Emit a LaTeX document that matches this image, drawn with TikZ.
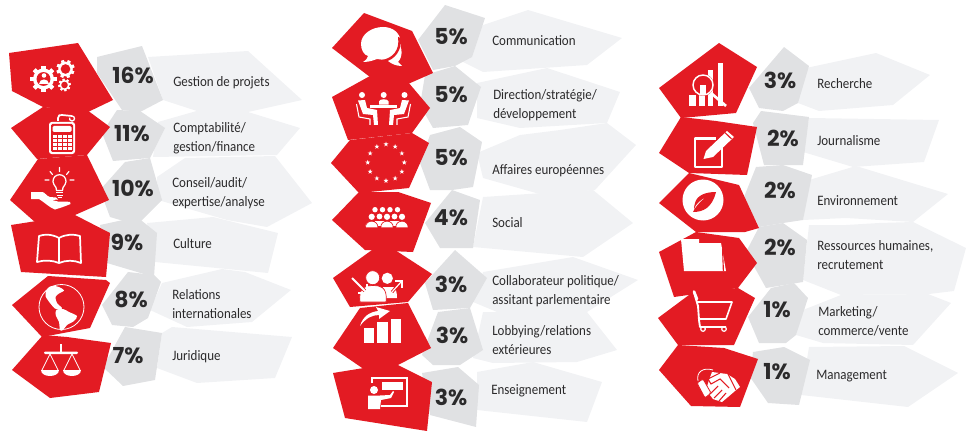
\documentclass[tikz,border=0pt]{standalone}
\usepackage{fontspec}
\usetikzlibrary{arrows.meta}
\setmainfont{Carlito}[FakeStretch=0.9]
\newfontfamily\pctfont{Poppins}[Scale=1]
\definecolor{cred}{HTML}{E31B23}
\definecolor{cgrey}{HTML}{E0E1E3}
\definecolor{clight}{HTML}{F1F2F4}
\definecolor{ctext}{HTML}{2B2A2B}
\tikzset{
  redp/.style={fill=cred},
  greyp/.style={fill=cgrey},
  lightp/.style={fill=clight},
  pct/.style={font=\pctfont\bfseries\fontsize{16.5}{18}\selectfont,text=ctext,inner sep=0pt,anchor=center},
  lab/.style={font=\fontsize{10.8}{14.2}\selectfont,text=ctext,inner sep=0pt,anchor=west,align=left,yshift=-1.1pt},
  ico/.style={fill=white,draw=none},
  icl/.style={draw=white,line width=1.3pt,fill=none},
  icr/.style={fill=cred,draw=none},
}
\newcommand{\gearicon}[4]{% cx cy r teeth
  \fill[ico] (#1,#2) circle ({#3});
  \foreach \a in {0,45,...,315}
    \fill[ico,rotate around={\a+#4:(#1,#2)}] ({#1-#3*0.2},{#2-#3*1.24}) rectangle ({#1+#3*0.2},{#2+#3*1.24});
  \fill[icr] (#1,#2) circle ({#3*0.66});
}
\newcommand{\eustar}[2]{%
  \begin{scope}[shift={(#1,#2)}]
  \fill[white] (-90:2.6) \foreach \i in {1,...,9} { -- ({-90+36*\i}:{mod(\i,2)==0 ? 2.6 : 1.05}) } -- cycle;
  \end{scope}
}
\begin{document}
\begin{tikzpicture}[x=0.75pt,y=-0.75pt]
\useasboundingbox (0,0) rectangle (966,431);
%% ---------- light
\fill[lightp] (148,57)--(248,51)--(302,100)--(248,112)--(200,112)--(163,100)--cycle;
\fill[lightp] (158,122)--(200,110)--(248,112)--(300,128)--(277,155)--(153,157)--cycle;
\fill[lightp] (157,177)--(185,158)--(275,156)--(312,203)--(267,227)--(227,220)--(158,200)--cycle;
\fill[lightp] (147,223)--(213,217)--(278,233)--(268,273)--(155,262)--cycle;
\fill[lightp] (162,283)--(222,269)--(245,272)--(291,290)--(252,322)--(187,327)--(150,310)--cycle;
\fill[lightp] (172,327)--(292,337)--(275,378)--(197,383)--(157,368)--(162,333)--cycle;
%
\fill[lightp] (483,25)--(528,10)--(622,38)--(587,65)--(483,72)--(463,62)--cycle;
\fill[lightp] (477,83)--(547,68)--(620,92)--(607,123)--(520,128)--(477,118)--cycle;
\fill[lightp] (477,153)--(520,135)--(560,130)--(607,123)--(636,145)--(595,190)--(543,195)--(483,178)--cycle;
\fill[lightp] (483,197)--(543,193)--(593,190)--(633,223)--(583,257)--(473,247)--cycle;
\fill[lightp] (483,272)--(573,257)--(638,280)--(587,312)--(497,312)--(473,302)--cycle;
\fill[lightp] (483,312)--(587,312)--(617,350)--(577,362)--(493,363)--(473,358)--cycle;
\fill[lightp] (477,372)--(533,362)--(602,382)--(587,422)--(477,410)--cycle;
%
\fill[lightp] (806,68)--(876,53)--(930,75)--(893,105)--(819,111)--(798,103)--cycle;
\fill[lightp] (809,118)--(939,120)--(924,162)--(853,167)--(803,152)--cycle;
\fill[lightp] (809,180)--(856,166)--(948,194)--(913,222)--(846,218)--(803,220)--cycle;
\fill[lightp] (809,225)--(846,225)--(879,223)--(913,222)--(966,248)--(954,291)--(929,294)--(841,295)--(803,280)--cycle;
\fill[lightp] (803,310)--(841,295)--(928,294)--(951,303)--(913,345)--(823,343)--(796,335)--cycle;
\fill[lightp] (809,347)--(904,346)--(958,373)--(908,407)--(801,395)--cycle;
%% ---------- grey
\fill[greyp] (97,57)--(142,46)--(163,100)--(140,112)--(122,110)--(97,73)--cycle;
\fill[greyp] (117,110)--(140,111)--(165,128)--(150,158)--(113,161)--(102,133)--cycle;
\fill[greyp] (125,162)--(150,158)--(162,200)--(137,225)--(110,217)--(100,190)--cycle;
\fill[greyp] (100,225)--(137,217)--(157,233)--(154,277)--(107,263)--cycle;
\fill[greyp] (128,272)--(154,275)--(161,282)--(148,318)--(133,327)--(112,325)--(102,305)--cycle;
\fill[greyp] (125,327)--(162,333)--(155,380)--(123,386)--(103,367)--cycle;
%
\fill[greyp] (445,5)--(485,18)--(472,57)--(455,66)--(433,70)--(418,40)--cycle;
\fill[greyp] (455,66)--(481,87)--(468,125)--(433,128)--(420,105)--(425,75)--cycle;
\fill[greyp] (460,127)--(482,142)--(473,187)--(452,190)--(430,190)--(420,163)--(430,135)--cycle;
\fill[greyp] (452,190)--(480,200)--(473,248)--(440,248)--(425,223)--cycle;
\fill[greyp] (455,250)--(487,278)--(470,308)--(433,310)--(425,283)--cycle;
\fill[greyp] (438,312)--(470,308)--(483,350)--(460,365)--(433,365)--(422,355)--cycle;
\fill[greyp] (422,373)--(458,367)--(479,385)--(476,427)--(430,415)--cycle;
%
\fill[greyp] (749,88)--(784,47)--(809,66)--(798,103)--(783,111)--(759,108)--cycle;
\fill[greyp] (753,123)--(761,111)--(809,117)--(803,165)--(764,165)--cycle;
\fill[greyp] (744,197)--(756,167)--(783,165)--(812,175)--(803,220)--(783,223)--(759,227)--cycle;
\fill[greyp] (746,252)--(759,227)--(783,223)--(807,240)--(803,282)--(766,288)--cycle;
\fill[greyp] (748,317)--(771,288)--(794,283)--(808,298)--(796,335)--(786,343)--(759,343)--cycle;
\fill[greyp] (750,377)--(753,352)--(784,347)--(810,360)--(799,405)--(768,403)--cycle;
%% ---------- red
\fill[redp] (9,53)--(78,43)--(113,100)--(88,112)--(43,107)--(12,91)--cycle;
\fill[redp] (43,107)--(11,128)--(37,159)--(87,155)--(110,127)--(87,110)--cycle;
\fill[redp] (38,159)--(10,200)--(44,230)--(75,215)--(109,200)--(87,155)--cycle;
\fill[redp] (11,225)--(75,215)--(110,233)--(106,277)--(21,272)--cycle;
\fill[redp] (48,276)--(12,305)--(42,337)--(90,328)--(110,283)--(106,280)--cycle;
\fill[redp] (43,335)--(12,370)--(50,398)--(99,392)--(111,343)--(67,337)--cycle;
%
\fill[redp] (364,13)--(412,31)--(433,73)--(408,84)--(370,77)--(332,48)--cycle;
\fill[redp] (370,76)--(332,97)--(348,140)--(412,133)--(430,108)--(408,82)--cycle;
\fill[redp] (350,140)--(331,163)--(359,193)--(409,188)--(429,143)--(412,133)--cycle;
\fill[redp] (359,192)--(332,220)--(365,250)--(413,252)--(431,203)--(398,192)--cycle;
\fill[redp] (372,250)--(333,278)--(350,307)--(408,302)--(432,274)--(395,250)--cycle;
\fill[redp] (360,308)--(333,348)--(368,372)--(398,365)--(431,348)--(408,303)--cycle;
\fill[redp] (370,367)--(333,373)--(345,418)--(427,431)--(432,382)--(398,365)--cycle;
%
\fill[redp] (719,43)--(757,67)--(736,113)--(681,118)--(659,88)--cycle;
\fill[redp] (681,117)--(659,153)--(689,173)--(747,175)--(757,127)--(716,121)--cycle;
\fill[redp] (689,173)--(659,203)--(696,232)--(745,232)--(759,228)--(739,185)--cycle;
\fill[redp] (696,232)--(659,252)--(674,297)--(738,288)--(757,263)--(739,238)--cycle;
\fill[redp] (693,292)--(658,318)--(678,345)--(734,345)--(755,298)--(738,288)--cycle;
\fill[redp] (678,345)--(659,370)--(691,406)--(740,407)--(758,359)--(724,348)--cycle;
%% ---------- percentages
\node[pct] (p1) at (133,75) {16\%};
\node[pct] (p2) at (132,134) {11\%};
\node[pct] (p3) at (133,188) {10\%};
\node[pct] (p4) at (127,242) {9\%};
\node[pct] (p5) at (131,299) {8\%};
\node[pct] (p6) at (128,356) {7\%};
\node[pct] (p7) at (451,37) {5\%};
\node[pct] (p8) at (451,95) {5\%};
\node[pct] (p9) at (451,158) {5\%};
\node[pct] (p10) at (451,218) {4\%};
\node[pct] (p11) at (451,284) {3\%};
\node[pct] (p12) at (452,335) {3\%};
\node[pct] (p13) at (451,397) {3\%};
\node[pct] (p14) at (780,80) {3\%};
\node[pct] (p15) at (783,138) {2\%};
\node[pct] (p16) at (780,190) {2\%};
\node[pct] (p17) at (780,247) {2\%};
\node[pct] (p18) at (777,310) {1\%};
\node[pct] (p19) at (777,372) {1\%};
%% ---------- labels
\node[lab] (l1) at (173,81) {\strut Gestion de projets};
\node[lab] (l2) at (173,137) {\strut Comptabilité/\\\strut gestion/finance};
\node[lab] (l3) at (172,192) {\strut Conseil/audit/\\\strut expertise/analyse};
\node[lab] (l4) at (173,243) {\strut Culture};
\node[lab] (l5) at (172,304) {\strut Relations\\\strut internationales};
\node[lab] (l6) at (172,355) {\strut Juridique};
\node[lab] (l7) at (492,40) {\strut Communication};
\node[lab] (l8) at (493,104) {\strut Direction/stratégie/\\\strut développement};
\node[lab] (l9) at (492,169) {\strut Affaires européennes};
\node[lab] (l10) at (492,222) {\strut Social};
\node[lab] (l11) at (492,290) {\strut Collaborateur politique/\\\strut assitant parlementaire};
\node[lab] (l12) at (492,340) {\strut Lobbying/relations\\\strut extérieures};
\node[lab] (l13) at (491,389) {\strut Enseignement};
\node[lab] (l14) at (817,83) {\strut Recherche};
\node[lab] (l15) at (817,140) {\strut Journalisme};
\node[lab] (l16) at (817,200) {\strut Environnement};
\node[lab] (l17) at (817,255) {\strut Ressources humaines,\\\strut recrutement};
\node[lab] (l18) at (818,321) {\strut Marketing/\\\strut commerce/vente};
\node[lab] (l19) at (816,374) {\strut Management};
%% ---------- icons
% gears
\gearicon{43.5}{79}{10.5}{0}
\gearicon{65.5}{69}{7.3}{20}
\gearicon{64.5}{85}{5}{10}
\fill[ico] (44,75.5) circle (2.3);
\fill[ico] (39,84.5) .. controls (39,78.5) and (49,78.5) .. (49,84.5) -- cycle;
% calculator
\draw[icl] (58,121)--(58,118) .. controls (58,115) and (60,115) .. (62,115) -- (72,116);
\draw[icl,line width=1pt] (72,116) arc (-90:200:2.5);
\fill[ico,rounded corners=2pt] (49,122) rectangle (75,154);
\fill[icr,rounded corners=1pt] (51,124) rectangle (73,152);
\fill[ico,rounded corners=1pt] (52.5,126) rectangle (71.5,132);
\foreach \r in {135,139,143,147} \foreach \c in {53,58,63,68}
  \fill[ico] (\c,\r) rectangle ++(3.6,2.8);
% bulb and hand
\draw[white,line width=0.95pt,line join=round] (56.5,190.5) -- (56,187.5) .. controls (54.5,185) and (53,184) .. (53,181.5) .. controls (53,172.5) and (66,172.5) .. (66,181.5) .. controls (66,184) and (64.5,185) .. (63,187.5) -- (62.5,190.5) -- cycle;
\fill[ico] (56,192) rectangle (63,193.2);
\fill[ico] (56.5,194.5) rectangle (62.5,195.7);
\fill[ico] (57.5,197) rectangle (61.5,198);
\draw[white,line width=0.9pt,line cap=round] (59.5,167.5)--(59.5,171.5) (50,171.5)--(52.5,174.5) (69,171.5)--(66.5,174.5) (45,180)--(49,180) (70,180)--(74,180);
\fill[ico] (31,192) -- (42,192) .. controls (45,192) and (46,196) .. (50,197) -- (56,197.5) -- (58,199.5) -- (52,200) -- (58,201.5) -- (70,201.8) -- (70.5,204) .. controls (66,206) and (60,208) .. (55,209.5) .. controls (50,208) and (44,202) .. (39,199) -- (31,199) -- cycle;
% book
\draw[icl,line join=round] (59,238) .. controls (52,234) and (44,234) .. (39,236) -- (37,262) .. controls (44,260) and (52,260) .. (59,263) .. controls (66,260) and (74,260) .. (81,263) -- (80,236) .. controls (74,234) and (66,234) .. (59,238) -- (59,263);
% globe
\draw[white,line width=0.6pt] (61.5,307) circle (22.5);
\fill[ico] plot[smooth cycle,tension=0.5] coordinates {(46.5,290) (45.5,296) (50,303) (55,308.5) (60,310) (62,308) (57,303) (55.5,297) (59,293.5) (64,290.5) (60,287.5) (55,286) (50,286.5)};
\fill[ico] plot[smooth cycle,tension=0.5] coordinates {(56,310.5) (63,309) (69,312) (77,316) (74,321) (67,325) (63,330) (60,330) (59,322) (56,316)};
% scales
\fill[ico] (60.2,344) rectangle (61.8,353);
\fill[ico,rounded corners=0.8pt] (44,351.5) rectangle (78,354);
\draw[white,line width=0.6pt] (50,354)--(42,370) (50,354)--(58,370) (72,354)--(64,370) (72,354)--(80,370);
\fill[ico] (41,370) -- (59,370) .. controls (59,378) and (41,378) .. (41,370) -- cycle;
\fill[ico] (63,370) -- (81,370) .. controls (81,378) and (63,378) .. (63,370) -- cycle;
% speech bubbles
\fill[ico] (398,42) .. controls (405,52) and (400,60) .. (398,62) -- (402,66) .. controls (396,66) and (392,64) .. (388,61) -- (380,58) .. controls (392,56) and (397,50) .. (398,42) -- cycle;
\fill[ico] (401,44) .. controls (401,33) and (393,27) .. (383,27) .. controls (372,27) and (361,34) .. (361,44) .. controls (361,50) and (364,55) .. (368,56) .. controls (368,58) and (366,60) .. (363,62) .. controls (370,62) and (374,60) .. (377,59) .. controls (390,62) and (401,54) .. (401,44) -- cycle;
\fill[icr] (398,37) .. controls (400,50) and (393,58) .. (382,60) -- (384,62) .. controls (395,60) and (402,50) .. (401,38) -- cycle;
% meeting
\fill[ico] (370.3,105) rectangle (397,107.7);
\foreach \x in {362,383.7,404.5} \fill[ico] (\x,95) circle (3);
\fill[ico] (379,104.6) -- (379,101.5) .. controls (379,98.5) and (388.5,98.5) .. (388.5,101.5) -- (388.5,104.6) -- cycle;
\fill[ico] (358,100.5) -- (365,100) -- (367,108) -- (377,110) -- (378,125) -- (374,125) -- (373,115) -- (363,114) -- cycle;
\fill[ico] (409,100.5) -- (402,100) -- (400,108) -- (390,110) -- (389,125) -- (393,125) -- (394,115) -- (404,114) -- cycle;
\draw[white,line width=0.8pt] (356.5,104)--(359,117)--(370,119)--(370,125) (410.5,104)--(408,117)--(397,119)--(397,125);
% stars
\foreach \k in {0,...,11} {\pgfmathsetmacro\sx{386+18.3*cos(30*\k)}\pgfmathsetmacro\sy{162.5+18.3*sin(30*\k)}\eustar{\sx}{\sy}}
% social
\foreach \x in {375,382.5,390,397.5} \fill[ico] (\x,209.7) circle (2.7);
\foreach \x in {379.5,394.5} {
  \fill[ico] (\x,216.5) circle (2.9);
  \fill[ico] (\x-5,226) -- (\x-5,221) -- (\x+5,221) -- (\x+5,226) -- cycle;
}
\foreach \x in {371.7,387,402} {
  \fill[icr] (\x,216.8) circle (3.9);
  \fill[ico] (\x,216.8) circle (3.1);
  \fill[ico,draw=cred,line width=0.5pt] (\x-6.3,227.6) .. controls (\x-6.3,219) and (\x+6.3,219) .. (\x+6.3,227.6) -- cycle;
}
% collaborator
\fill[ico] (387.3,278.3) circle (5.6);
\fill[ico] (383,287) -- (393,287) .. controls (396,287) and (397,293) .. (397,298) -- (386,298) -- cycle;
\fill[ico,draw=cred,line width=0.5pt] (372.7,277.7) circle (7);
\fill[ico,draw=cred,line width=0.5pt] (360,302) .. controls (358,286) and (367,285.5) .. (373,285.5) .. controls (379,285.5) and (388,286) .. (386,302) -- cycle;
\draw[cred,line width=2.6pt] (352,278)--(366,292);
\draw[white,line width=1.4pt] (352,278)--(366,292);
\draw[white,line width=1.4pt] (358,293)--(367,293)--(367,284);
\draw[cred,line width=2.2pt] (392,292)--(401,282);
\draw[white,line width=0.9pt] (392,292)--(401,282);
\draw[white,line width=0.9pt] (395,281)--(402,281)--(402,288);
% lobbying
\fill[ico] (364,328) rectangle (374,343);
\fill[ico] (377,322) rectangle (388,343);
\fill[ico] (391,319) rectangle (401,343);
\fill[ico] (360,326) .. controls (363,316) and (370,312) .. (378,311) -- (376,307) -- (390,311) -- (379,319) -- (379,315) .. controls (372,315) and (366,318) .. (360,326) -- cycle;
% teaching
\draw[white,line width=1.1pt] (372,383)--(372,378)--(407,378)--(407,406)--(381,406);
\fill[ico] (382,382) rectangle (403,390);
\fill[ico] (374,390) circle (4);
\fill[ico] (368,395.5) -- (380,395.5) -- (390,395) -- (393,391) -- (394,392) -- (391,398) -- (381,400) -- (380,409) -- (368,409) -- cycle;
% research
\foreach \x/\w/\t in {689/7/95,699/6/85,708/5/70,718/5/63} \fill[ico] (\x,\t) rectangle ({\x+\w},106.5);
\fill[icr] (703,85) circle (11);
\draw[white,line width=1.1pt] (703,85) circle (10);
\fill[ico] (699.5,85) rectangle (705.5,94);
\draw[white,line width=2pt] (711,93)--(726,106);
% edit
\draw[white,line width=1.8pt,line join=round] (722,145)--(722,167)--(695,167)--(695,138.5)--(716,138.5);
\fill[ico] (703.5,159) -- (706,151) -- (727,131) -- (734,137) -- (713,157) -- cycle;
\fill[icr] (724.5,133) -- (725.3,132.2) -- (732,138.5) -- (731,139.2) -- cycle;
% leaf
\fill[ico] (703,200) circle (20.5);
\fill[icr] (716,192) .. controls (706,192) and (697,195) .. (695,203) .. controls (694,206) and (694,208) .. (694,209) .. controls (696,204) and (700,200) .. (706,197) .. controls (701,201) and (697,205) .. (694,210) -- (693,212) .. controls (703,212) and (712,208) .. (716,192) -- cycle;
% folder
\fill[ico] (681,239) -- (699,239) -- (699,243) -- (721,243) -- (726,271) -- (684,271) -- cycle;
\fill[icr] (723,249) -- (724,271) -- (722.8,271) -- (722,249) -- cycle;
% cart
\draw[white,line width=1.4pt,line join=round] (694,292.5) -- (698,306) -- (699,320) -- (700,327) -- (726,327);
\draw[white,line width=2pt,line cap=round] (694,291.5) -- (697,299);
\draw[white,line width=1.2pt,line join=round] (696,302) -- (732,302) -- (726,319) -- (699,319);
\draw[white,line width=0.9pt] (703,329) circle (2.3) (724,329) circle (2.3);
% handshake
\draw[white,line width=0.6pt] (698,381) .. controls (696,372) and (703,367) .. (713,370);
\fill[ico] (712,372) -- (727,374) -- (735,379) -- (740,387) -- (735,391) -- (728,397) -- (722,402) -- (713,399) -- (706,390) -- (709,380) -- cycle;
\fill[ico,draw=cred,line width=0.6pt,rounded corners=1pt] (697,383) -- (703,379) -- (711,393) -- (705,398) -- cycle;
\draw[cred,line width=0.8pt] (720,373) -- (708,379) -- (711,384) -- (720,379) -- (729,388) (710,394) -- (718,386) (714,398) -- (722,390) (719,401) -- (726,393) (728,374) -- (736,390);
\end{tikzpicture}
\end{document}
